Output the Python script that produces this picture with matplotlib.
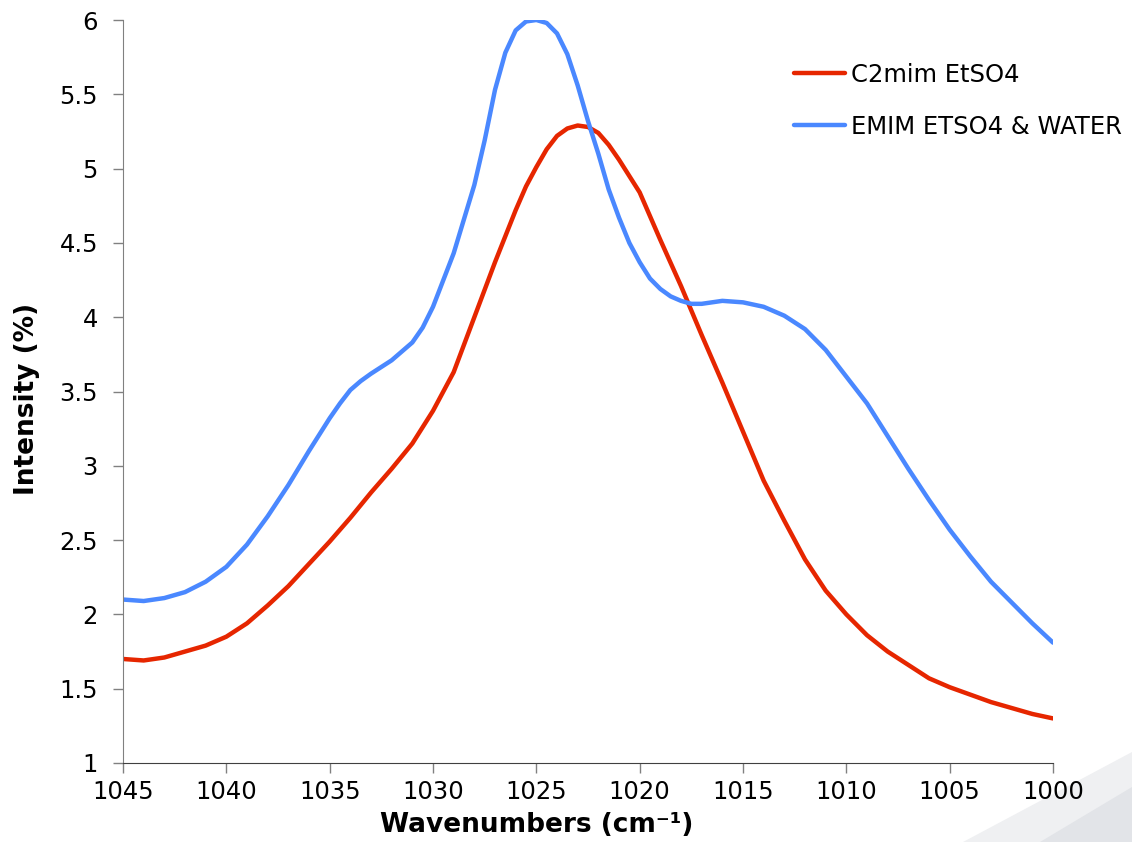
import numpy as np
import matplotlib
matplotlib.use('Agg')
import matplotlib.pyplot as plt
from matplotlib.patches import Polygon

plt.rcParams['font.family'] = ['DejaVu Sans']

# wavenumbers (cm-1) and intensities,
# with extra half steps where the curves bend sharply
c2mim_x = [1045, 1044, 1043, 1042, 1041, 1040, 1039, 1038, 1037, 1036,
           1035, 1034, 1033, 1032, 1031, 1030, 1029, 1028, 1027, 1026,
           1025.5, 1025, 1024.5, 1024, 1023.5, 1023, 1022.5, 1022, 1021.5, 1021,
           1020, 1019, 1018, 1017, 1016, 1015, 1014, 1013, 1012, 1011,
           1010, 1009, 1008, 1007, 1006, 1005, 1004, 1003, 1002, 1001, 1000]
c2mim = [1.70, 1.69, 1.71, 1.75, 1.79, 1.85, 1.94, 2.06, 2.19, 2.34,
         2.49, 2.65, 2.82, 2.98, 3.15, 3.37, 3.63, 4.00, 4.37, 4.72,
         4.88, 5.01, 5.13, 5.22, 5.27, 5.29, 5.28, 5.24, 5.16, 5.06,
         4.84, 4.52, 4.21, 3.88, 3.56, 3.23, 2.90, 2.63, 2.37, 2.16,
         2.00, 1.86, 1.75, 1.66, 1.57, 1.51, 1.46, 1.41, 1.37, 1.33, 1.30]

emim_x = [1045, 1044, 1043, 1042, 1041, 1040, 1039, 1038, 1037, 1036,
          1035, 1034.5, 1034, 1033.5, 1033, 1032, 1031, 1030.5, 1030, 1029.5,
          1029, 1028.5, 1028, 1027.5, 1027, 1026.5, 1026, 1025.5, 1025, 1024.5,
          1024, 1023.5, 1023, 1022.5, 1022, 1021.5, 1021, 1020.5, 1020, 1019.5,
          1019, 1018.5, 1018, 1017.5, 1017, 1016, 1015, 1014, 1013, 1012,
          1011, 1010, 1009, 1008, 1007, 1006, 1005, 1004, 1003, 1002,
          1001, 1000]
emim_water = [2.10, 2.09, 2.11, 2.15, 2.22, 2.32, 2.47, 2.66, 2.87, 3.10,
              3.32, 3.42, 3.51, 3.57, 3.62, 3.71, 3.83, 3.93, 4.07, 4.25,
              4.43, 4.66, 4.89, 5.19, 5.53, 5.78, 5.93, 5.99, 6.00, 5.98,
              5.91, 5.77, 5.56, 5.32, 5.10, 4.86, 4.67, 4.50, 4.37, 4.26,
              4.19, 4.14, 4.11, 4.09, 4.09, 4.11, 4.10, 4.07, 4.01, 3.92,
              3.78, 3.60, 3.42, 3.20, 2.98, 2.77, 2.57, 2.39, 2.22, 2.08,
              1.94, 1.81]

labels = ['C2mim EtSO4', 'EMIM ETSO4 & WATER']
colors = ['#E62600', '#4A88FF']

fig = plt.figure(figsize=(11.32, 8.42), dpi=100)

# slide decoration in the bottom right corner
fig.patches.append(Polygon([(963/1132, 0), (1, 90/842), (1, 0)], closed=True,
                           transform=fig.transFigure, facecolor='#EFF0F2',
                           edgecolor='none', zorder=0))
fig.patches.append(Polygon([(1040/1132, 0), (1, 55/842), (1, 0)], closed=True,
                           transform=fig.transFigure, facecolor='#E2E4E8',
                           edgecolor='none', zorder=0))

ax = fig.add_axes([123/1132, 79/842, 930/1132, 743/842])
ax.set_zorder(2)
ax.patch.set_alpha(0)

ax.plot(c2mim_x, c2mim, color=colors[0], lw=3.2, label=labels[0],
        solid_capstyle='round', solid_joinstyle='round')
ax.plot(emim_x, emim_water, color=colors[1], lw=3.2, label=labels[1],
        solid_capstyle='round', solid_joinstyle='round')

ax.set_xlim(1045, 1000)
ax.set_ylim(1, 6)
ax.set_xticks(np.arange(1045, 999, -5))
ax.set_yticks(np.arange(1, 6.01, 0.5))
ax.set_yticklabels(['%g' % v for v in np.arange(1, 6.01, 0.5)])

for s in ['top', 'right']:
    ax.spines[s].set_visible(False)
ax.spines['left'].set_color('#808080')
ax.spines['bottom'].set_color('#404040')
ax.tick_params(axis='both', direction='out', length=7, width=1,
               color='#808080', labelsize=17.5)
ax.tick_params(axis='x', pad=5)
ax.tick_params(axis='y', pad=11)

ax.set_xlabel('Wavenumbers (cm⁻¹)', fontsize=19, fontweight='bold')
ax.xaxis.set_label_coords(0.445, -0.066)
ax.set_ylabel('Intensity (%)', fontsize=19, fontweight='bold')
ax.yaxis.set_label_coords(-0.089, 0.49)

ax.legend(loc='upper left', bbox_to_anchor=(772/1132, 1 - 41/842),
          bbox_transform=fig.transFigure, frameon=False, fontsize=17.5,
          handlelength=2.1, handletextpad=0.25, labelspacing=1.15)

fig.savefig('out.png', dpi=100)
